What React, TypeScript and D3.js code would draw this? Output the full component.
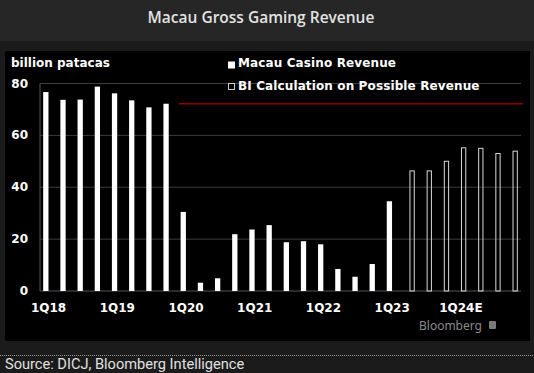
import React, { useEffect, useRef } from "react";
import * as d3 from "d3";

// quarterly data, billion patacas
const quarters = [
  "1Q18", "2Q18", "3Q18", "4Q18",
  "1Q19", "2Q19", "3Q19", "4Q19",
  "1Q20", "2Q20", "3Q20", "4Q20",
  "1Q21", "2Q21", "3Q21", "4Q21",
  "1Q22", "2Q22", "3Q22", "4Q22",
  "1Q23", "2Q23", "3Q23", "4Q23",
  "1Q24", "2Q24", "3Q24", "4Q24",
];
const casinoRevenue = [
  76.7, 73.7, 73.8, 78.8,
  76.2, 73.5, 70.8, 72.2,
  30.5, 3.2, 4.9, 21.9,
  23.7, 25.4, 18.8, 19.2,
  18.0, 8.5, 5.5, 10.4,
  34.6, null, null, null,
  null, null, null, null,
];
const biEstimate = [
  null, null, null, null,
  null, null, null, null,
  null, null, null, null,
  null, null, null, null,
  null, null, null, null,
  null, 46.5, 46.5, 50.2,
  55.4, 55.2, 53.2, 54.1,
];
const xTickQuarters = ["1Q18", "1Q19", "1Q20", "1Q21", "1Q22", "1Q23", "1Q24"];
const xTickLabels = ["1Q18", "1Q19", "1Q20", "1Q21", "1Q22", "1Q23", "1Q24E"];
const yTicks = [0, 20, 40, 60, 80];
const refLevel = 72.2; // 4Q19 level
const refStart = "1Q20";

const W = 534;
const H = 373;
const bold = "'DejaVu Sans', sans-serif";

const MacauChart = ({
  width = W,
  height = H,
  marginTop = 83.5,
  marginRight = 13,
  marginBottom = 82,
  marginLeft = 40,
}) => {
  const svgRef = useRef(null);

  useEffect(() => {
    const svg = d3.select(svgRef.current);
    svg.selectAll("*").remove();

    // backgrounds
    svg.append("rect").attr("width", width).attr("height", height).attr("fill", "#1b1b1b");
    svg.append("rect").attr("width", width).attr("height", 41).attr("fill", "#262626");
    svg.append("rect").attr("x", 5).attr("y", 51).attr("width", 525).attr("height", 290).attr("fill", "#000");

    svg
      .append("text")
      .attr("x", 261)
      .attr("y", 23)
      .attr("text-anchor", "middle")
      .style("font-family", "'Open Sans', sans-serif")
      .style("font-weight", 600)
      .style("font-size", "15.5px")
      .style("fill", "#e2e2e2")
      .text("Macau Gross Gaming Revenue");

    const x = d3
      .scaleBand()
      .domain(quarters)
      .range([marginLeft, width - marginRight]);

    const y = d3
      .scaleLinear()
      .domain([0, 80])
      .range([height - marginBottom, marginTop]);

    const sub = d3
      .scaleBand()
      .domain(["actual", "estimate"])
      .range([-5.4, 5.4])
      .paddingInner(0.04);

    // grid
    svg
      .append("g")
      .selectAll("line")
      .data(yTicks.filter((d) => d > 0))
      .enter()
      .append("line")
      .attr("x1", marginLeft)
      .attr("x2", width - marginRight)
      .attr("y1", (d) => y(d))
      .attr("y2", (d) => y(d))
      .attr("stroke", "#3d3d3d")
      .attr("stroke-width", 1);

    // axes lines
    svg
      .append("line")
      .attr("x1", marginLeft)
      .attr("x2", marginLeft)
      .attr("y1", y(80))
      .attr("y2", y(0))
      .attr("stroke", "#555");
    svg
      .append("line")
      .attr("x1", marginLeft)
      .attr("x2", width - marginRight)
      .attr("y1", y(0))
      .attr("y2", y(0))
      .attr("stroke", "#555");

    // y labels
    svg
      .append("g")
      .selectAll("text")
      .data(yTicks)
      .enter()
      .append("text")
      .attr("x", 28)
      .attr("y", (d) => y(d) + 4)
      .attr("text-anchor", "end")
      .style("font-family", bold)
      .style("font-weight", "bold")
      .style("font-size", "12px")
      .style("fill", "#fff")
      .text((d) => d);

    svg
      .append("text")
      .attr("x", 11)
      .attr("y", 66.5)
      .style("font-family", bold)
      .style("font-weight", "bold")
      .style("font-size", "12px")
      .style("fill", "#fff")
      .text("billion patacas");

    // x labels
    svg
      .append("g")
      .selectAll("text")
      .data(xTickQuarters)
      .enter()
      .append("text")
      .attr("x", (d) => x(d) + x.bandwidth() / 2)
      .attr("y", 311.5)
      .attr("text-anchor", "middle")
      .style("font-family", bold)
      .style("font-weight", "bold")
      .style("font-size", "12px")
      .style("fill", "#fff")
      .text((d, i) => xTickLabels[i]);

    // reference line
    svg
      .append("line")
      .attr("x1", x(refStart) + 1.5)
      .attr("x2", width - marginRight + 2)
      .attr("y1", y(refLevel))
      .attr("y2", y(refLevel))
      .attr("stroke", "#8e0000")
      .attr("stroke-width", 1.3);

    // actual bars
    const actual = quarters
      .map((q, i) => ({ q, v: casinoRevenue[i] }))
      .filter((d) => d.v != null);
    svg
      .append("g")
      .selectAll("rect")
      .data(actual)
      .enter()
      .append("rect")
      .attr("x", (d) => x(d.q) + x.bandwidth() / 2 + sub("actual"))
      .attr("width", sub.bandwidth())
      .attr("y", (d) => y(d.v))
      .attr("height", (d) => y(0) - y(d.v))
      .attr("fill", "#fff");

    // estimate bars (outlined)
    const est = quarters
      .map((q, i) => ({ q, v: biEstimate[i] }))
      .filter((d) => d.v != null);
    svg
      .append("g")
      .selectAll("rect")
      .data(est)
      .enter()
      .append("rect")
      .attr("x", (d) => x(d.q) + x.bandwidth() / 2 + sub("estimate") + 0.5)
      .attr("width", sub.bandwidth() - 1)
      .attr("y", (d) => y(d.v) + 0.5)
      .attr("height", (d) => y(0) - y(d.v) - 0.5)
      .attr("fill", "none")
      .attr("stroke", "#d8d8d8")
      .attr("stroke-width", 1);

    // legend
    const legend = svg.append("g").attr("transform", "translate(228,0)");
    legend.append("rect").attr("x", 0).attr("y", 61.5).attr("width", 7).attr("height", 7).attr("fill", "#fff");
    legend
      .append("rect")
      .attr("x", 0.5)
      .attr("y", 83.5)
      .attr("width", 6)
      .attr("height", 6)
      .attr("fill", "#000")
      .attr("stroke", "#ccc");
    legend
      .selectAll("text.lg")
      .data(["Macau Casino Revenue", "BI Calculation on Possible Revenue"])
      .enter()
      .append("text")
      .attr("x", 10)
      .attr("y", (d, i) => 67 + i * 23)
      .style("font-family", bold)
      .style("font-weight", "bold")
      .style("font-size", "12px")
      .style("letter-spacing", "0.12px")
      .style("fill", "#fff")
      .text((d) => d);

    // watermark
    svg
      .append("text")
      .attr("x", 482)
      .attr("y", 330)
      .attr("text-anchor", "end")
      .style("font-family", "'Noto Sans', sans-serif")
      .style("font-size", "12px")
      .style("fill", "#8a8a8a")
      .text("Bloomberg");
    svg.append("rect").attr("x", 489).attr("y", 321).attr("width", 7).attr("height", 8).attr("rx", 1).attr("fill", "#7a7a7a");

    // footer
    svg
      .append("line")
      .attr("x1", 0)
      .attr("x2", width)
      .attr("y1", 355.5)
      .attr("y2", 355.5)
      .attr("stroke", "#9a9a9a")
      .attr("stroke-dasharray", "1,1");
    svg
      .append("text")
      .attr("x", 5)
      .attr("y", 368.5)
      .style("font-family", "Roboto, sans-serif")
      .style("font-size", "14.6px")
      .style("fill", "#e0e0e0")
      .text("Source: DICJ, Bloomberg Intelligence");
  }, [width, height, marginTop, marginRight, marginBottom, marginLeft]);

  return <svg width={width} height={height} ref={svgRef} style={{ display: "block" }}></svg>;
};

export default function App() {
  return (
    <div style={{ position: "absolute", left: 0, top: 0 }}>
      <MacauChart />
    </div>
  );
}
